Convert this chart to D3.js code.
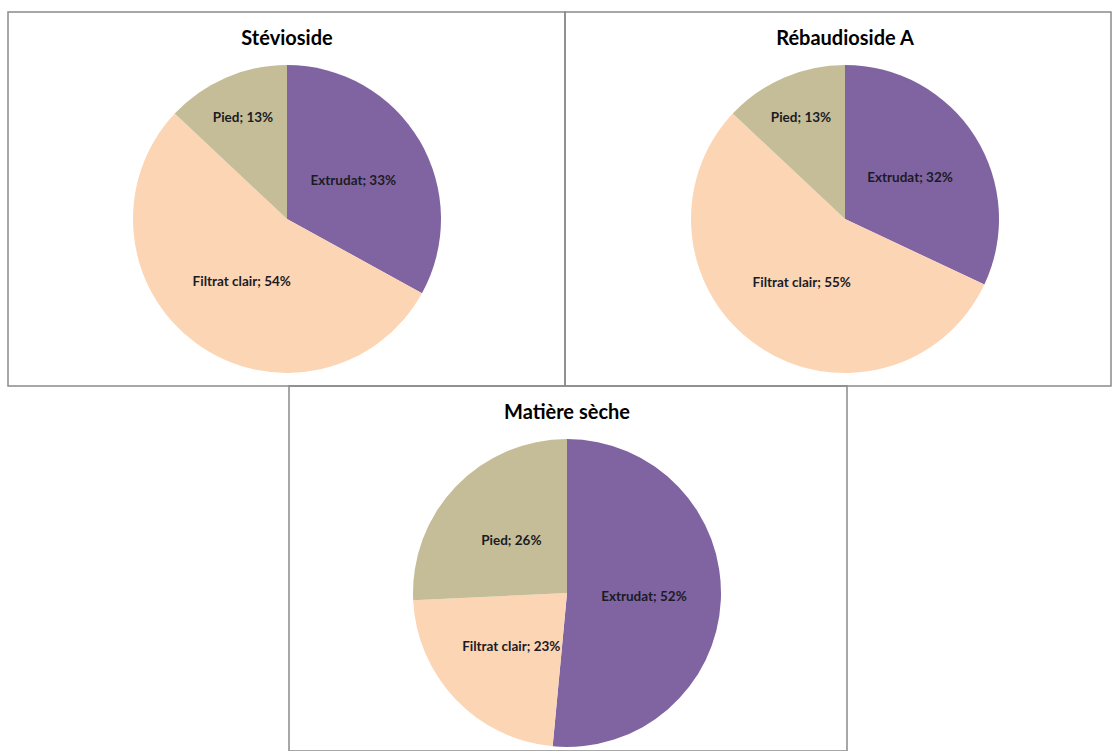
<!DOCTYPE html>
<html>
<head>
<meta charset="utf-8">
<script src="https://cdn.jsdelivr.net/npm/d3@7"></script>
<style>
  html, body { margin: 0; padding: 0; background: #fff; }
  svg { display: block; }
</style>
</head>
<body>
<svg id="chart" width="1112" height="751"></svg>
<script>
// ---- Data ----
const categories = ["Extrudat", "Filtrat clair", "Pied"];
const chartTitles = ["Stévioside", "Rébaudioside A", "Matière sèche"];
const steviosideValues = [33, 54, 13];
const rebaudiosideValues = [32, 55, 13];
const matiereSecheValues = [52, 23, 26];
const seriesValues = [steviosideValues, rebaudiosideValues, matiereSecheValues];

// ---- Styles / layout ----
const colors = d3.scaleOrdinal().domain(categories).range(["#8064A2", "#FCD5B5", "#C4BD97"]);
const panels = [
  { x0: 8,   y0: 12,  x1: 565,  y1: 386 },
  { x0: 565, y0: 12,  x1: 1111, y1: 386 },
  { x0: 289, y0: 386, x1: 847,  y1: 751 }
];
const radius = 154;

const svg = d3.select("#chart");

const pie = d3.pie().sort(null).value(d => d.value);
const arc = d3.arc().innerRadius(0).outerRadius(radius);

panels.forEach((p, i) => {
  const g = svg.append("g");
  // Panel border
  g.append("rect")
    .attr("x", p.x0).attr("y", p.y0)
    .attr("width", p.x1 - p.x0).attr("height", p.y1 - p.y0)
    .attr("fill", "none").attr("stroke", "#8a8a8a").attr("stroke-width", 1.5);

  const cx = i === 2 ? 567 : (i === 0 ? 287 : 845);
  const cy = p.y0 + 207;

  g.append("text")
    .attr("x", cx).attr("y", p.y0 + 33)
    .attr("text-anchor", "middle")
    .attr("font-family", "Lato, 'Open Sans', sans-serif")
    .attr("font-weight", "bold")
    .attr("font-size", 20)
    .attr("fill", "#000")
    .text(chartTitles[i]);

  const data = categories.map((c, k) => ({ name: c, value: seriesValues[i][k] }));
  const arcs = pie(data);
  const pg = g.append("g").attr("transform", `translate(${cx},${cy})`);
  pg.selectAll("path").data(arcs).join("path")
    .attr("d", arc)
    .attr("fill", d => colors(d.data.name));

  pg.selectAll("text").data(arcs).join("text")
    .attr("transform", d => {
      const frac = (d.endAngle - d.startAngle) / (2 * Math.PI);
      const lr = frac < 0.2 ? radius * 0.72 : radius * 0.5;
      const la = d3.arc().innerRadius(lr).outerRadius(lr);
      const [x, y] = la.centroid(d);
      return `translate(${x},${y})`;
    })
    .attr("text-anchor", "middle")
    .attr("dy", "0.35em")
    .attr("font-family", "Lato, 'Open Sans', sans-serif")
    .attr("font-weight", "bold")
    .attr("font-size", 13.5)
    .attr("fill", "#1b1b24")
    .text(d => `${d.data.name}; ${d.data.value}%`);
});
</script>
</body>
</html>
